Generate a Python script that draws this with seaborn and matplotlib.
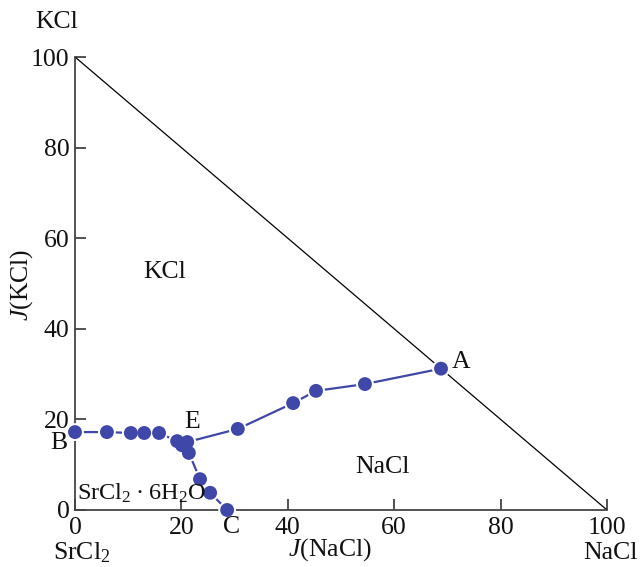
import matplotlib
matplotlib.use("Agg")
import matplotlib.pyplot as plt
import seaborn as sns
import pandas as pd

# Data (J(NaCl), J(KCl))
be_x = [0.0, 6.0, 10.5, 13.0, 15.8, 19.2, 21.1]
be_y = [17.2, 17.2, 17.0, 17.0, 17.0, 15.2, 15.0]
ec_x = [21.1, 20.1, 21.4, 23.5, 25.4, 28.6]
ec_y = [15.0, 14.3, 12.6, 6.8, 3.8, 0.0]
ea_x = [21.1, 30.6, 41.0, 45.3, 54.5, 68.8]
ea_y = [15.0, 17.9, 23.6, 26.3, 27.8, 31.2]
ticks = [0, 20, 40, 60, 80, 100]

sns.set_theme(style="ticks")
plt.rcParams['font.family'] = ['Liberation Serif', 'DejaVu Serif']
plt.rcParams['mathtext.fontset'] = 'custom'
plt.rcParams['mathtext.rm'] = 'Liberation Serif'
plt.rcParams['mathtext.it'] = 'Liberation Serif:italic'

color = '#3f48a8'
fig = plt.figure(figsize=(6.4, 5.67), dpi=100)
ax = fig.add_axes([75/640, 57/567, (607-75)/640, (510-57)/567])

frames = []
for name, xs, ys in [('BE', be_x, be_y), ('EC', ec_x, ec_y), ('EA', ea_x, ea_y)]:
    frames.append(pd.DataFrame({'x': xs, 'y': ys, 'branch': name}))
df = pd.concat(frames, ignore_index=True)

# hypotenuse
sns.lineplot(x=[0, 100], y=[100, 0], ax=ax, color='black', lw=0.9, sort=False, zorder=1)

for name, g in df.groupby('branch'):
    sns.lineplot(data=g, x='x', y='y', ax=ax, sort=False, estimator=None,
                 color=color, lw=1.6, zorder=2)
pts = df.drop_duplicates(subset=['x', 'y'])
sns.scatterplot(data=pts, x='x', y='y', ax=ax, s=165, color='white',
                edgecolor='none', zorder=3, clip_on=False)
sns.scatterplot(data=pts, x='x', y='y', ax=ax, s=100, color=color,
                edgecolor='none', zorder=4, clip_on=False)

ax.set_xlim(0, 100)
ax.set_ylim(0, 100)
ax.set_xticks(ticks)
ax.set_yticks(ticks)
ax.set_xticklabels([str(t) for t in ticks])
ax.set_yticklabels([str(t) for t in ticks])
ax.tick_params(direction='in', length=8, width=1.2, colors='#333333',
               labelsize=18.5, labelcolor='#111111', pad=4)
ax.tick_params(axis='x', pad=5)
for side in ['top', 'right']:
    ax.spines[side].set_visible(False)
for side in ['left', 'bottom']:
    ax.spines[side].set_color('#444444')
    ax.spines[side].set_linewidth(1.3)
ax.set_xlabel('')
ax.set_ylabel('')

fs = 18.5
tc = '#111111'
fig.text(330/640, 1 - 550/567, '$J$(NaCl)', ha='center', va='center', fontsize=fs, color=tc)
fig.text(22/640, 1 - 285/567, '$J$(KCl)', ha='center', va='center', fontsize=fs, rotation=90, color=tc)
fig.text(57/640, 1 - 22/567, 'KCl', ha='center', va='center', fontsize=fs, color=tc)
fig.text(82/640, 1 - 553/567, 'SrCl$_2$', ha='center', va='center', fontsize=fs, color=tc)
fig.text(610/640, 1 - 553/567, 'NaCl', ha='center', va='center', fontsize=fs, color=tc)

ax.text(-1.5, 14.8, 'B', ha='right', va='center', fontsize=fs, color=tc)
ax.text(29.5, -3.8, 'C', ha='center', va='center', fontsize=fs, color=tc)
ax.text(22.0, 19.4, 'E', ha='center', va='center', fontsize=fs, color=tc)
ax.text(70.8, 32.7, 'A', ha='left', va='center', fontsize=fs, color=tc)
ax.text(16.8, 52.5, 'KCl', ha='center', va='center', fontsize=fs, color=tc)
ax.text(57.8, 9.6, 'NaCl', ha='center', va='center', fontsize=fs, color=tc)
ax.text(0.4, 3.6, 'SrCl$_2$\u2009·\u20096H$_2$O', ha='left', va='center', fontsize=17.5,
        color=tc, zorder=5)

fig.savefig('out.png', dpi=100)
